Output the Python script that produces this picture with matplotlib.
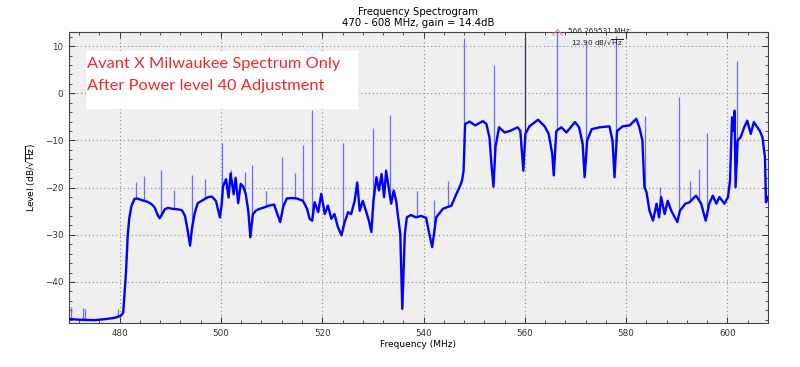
import numpy as np
import matplotlib
matplotlib.use("Agg")
import matplotlib.pyplot as plt
from matplotlib.path import Path
from matplotlib.ticker import AutoMinorLocator

# ---- data ----
trace_freq = [470.0, 470.5, 472.0, 475.0, 477.0, 479.0, 480.2, 480.7, 481.0, 481.25,
              481.6, 481.9, 482.3, 482.9, 483.5, 484.5, 485.5, 486.3, 486.9, 487.5,
              487.9, 488.4, 488.9, 489.5, 490.5, 491.5, 492.3, 492.9, 493.5, 493.9,
              494.3, 494.8, 495.4, 496.5, 497.5, 498.2, 499.0, 499.5, 499.8, 500.1,
              500.4, 501.0, 501.5, 501.9, 502.5, 502.9, 503.4, 503.9, 504.4, 504.9,
              505.4, 505.8, 506.3, 507.0, 507.6, 508.5, 509.5, 510.5, 511.1, 511.7,
              512.3, 513.0, 514.0, 515.0, 516.2, 517.0, 517.5, 518.0, 518.5, 519.2,
              519.8, 520.5, 521.1, 521.8, 522.4, 523.1, 523.8, 524.4, 525.1, 525.7,
              526.4, 526.9, 527.4, 528.0, 528.7, 529.2, 529.7, 530.1, 530.7, 531.2,
              531.7, 532.2, 532.6, 533.2, 533.6, 534.1, 534.6, 534.9, 535.4, 535.8,
              536.3, 536.7, 537.5, 538.5, 539.5, 540.5, 541.0, 541.7, 542.5, 543.8,
              545.5, 546.5, 547.1, 547.6, 547.9, 548.2, 549.1, 550.2, 551.7, 552.4,
              553.0, 553.4, 553.8, 554.2, 554.9, 556.0, 557.0, 558.6, 559.1, 559.5,
              559.7, 560.1, 560.9, 562.6, 563.9, 564.7, 565.4, 565.7, 566.2, 567.2,
              568.2, 569.9, 570.7, 571.4, 571.8, 572.3, 573.2, 574.8, 576.7, 577.3,
              577.7, 578.2, 579.3, 580.7, 582.0, 582.6, 583.2, 583.4, 583.6, 584.0,
              584.6, 585.3, 586.0, 586.5, 586.9, 587.6, 588.2, 588.9, 590.1, 590.6,
              591.7, 592.5, 593.8, 594.8, 595.7, 596.4, 597.1, 597.8, 598.4, 599.4,
              600.1, 600.5, 600.9, 601.2, 601.4, 601.6, 602.0, 602.6, 603.3, 603.9,
              604.6, 605.2, 605.9, 606.4, 606.9, 607.4, 607.6, 608.0]
trace_level = [-47.8, -47.9, -48.0, -48.1, -47.9, -47.6, -47.2, -46.5, -42.0, -38.0,
               -30.0, -26.5, -24.0, -22.4, -22.3, -22.7, -23.0, -23.5, -24.2, -25.8,
               -26.5, -25.6, -24.6, -24.3, -24.5, -24.6, -24.8, -26.0, -29.5, -32.3,
               -28.5, -25.5, -23.3, -22.6, -22.0, -21.9, -22.8, -25.0, -26.3, -24.0,
               -19.8, -18.2, -22.1, -17.0, -21.4, -17.9, -23.3, -19.2, -19.8, -21.4,
               -25.0, -30.5, -25.6, -24.8, -24.5, -24.2, -23.8, -23.6, -25.5, -27.3,
               -24.0, -22.3, -22.2, -22.3, -22.8, -24.5, -26.6, -27.0, -23.1, -25.2,
               -21.3, -25.6, -23.8, -26.6, -25.6, -28.4, -30.1, -27.4, -25.2, -25.6,
               -22.8, -18.9, -24.9, -22.8, -25.2, -27.0, -29.4, -22.8, -17.8, -20.6,
               -17.1, -22.0, -16.4, -20.6, -23.4, -20.6, -22.8, -25.6, -29.8, -45.7,
               -29.8, -26.3, -25.8, -26.3, -26.0, -26.4, -29.1, -32.6, -26.3, -24.5,
               -23.8, -21.3, -19.9, -18.5, -16.4, -6.5, -6.0, -6.8, -5.9, -6.5,
               -9.3, -15.0, -19.8, -11.4, -7.2, -8.3, -8.0, -7.2, -8.0, -13.6,
               -16.4, -8.6, -7.0, -5.6, -7.0, -8.6, -12.8, -17.4, -8.0, -7.2,
               -8.3, -6.1, -7.2, -10.7, -17.8, -10.0, -7.6, -7.2, -7.0, -10.0,
               -17.8, -8.0, -7.0, -6.8, -5.4, -7.2, -10.0, -15.0, -19.9, -20.9,
               -24.9, -27.0, -23.4, -26.3, -22.0, -25.6, -22.8, -24.9, -27.3, -24.9,
               -23.4, -23.1, -21.7, -23.4, -27.0, -23.4, -21.7, -23.4, -22.0, -23.4,
               -22.0, -18.5, -5.1, -8.0, -3.7, -19.9, -10.0, -9.3, -7.2, -5.8,
               -8.6, -6.1, -7.2, -8.0, -9.3, -13.6, -23.1, -22.0]

spike_freq = [470.3, 472.8, 473.2, 479.6, 483.2, 484.9, 488.2, 490.8, 494.3, 496.8,
              500.2, 502.0, 504.7, 506.1, 508.9, 512.1, 514.7, 516.2, 518.0, 524.1,
              530.0, 533.3, 538.7, 542.0, 544.8, 548.0, 554.0, 566.27, 572.0, 578.0,
              583.8, 586.6, 590.4, 592.6, 594.3, 595.9, 601.8]
spike_top = [-45.3, -45.6, -45.8, -45.8, -18.9, -17.6, -16.2, -20.5, -17.3, -18.1,
             -10.6, -16.2, -16.7, -15.3, -20.8, -13.4, -16.9, -10.9, -3.5, -10.6,
             -7.3, -4.7, -20.8, -22.6, -18.6, 11.7, 5.9, 12.9, 11.0, 12.2,
             -4.9, -19.9, -0.8, -18.5, -16.0, -8.5, 6.8]

dark_spike_freq = [560.0]
dark_spike_top = [12.0]

marker_freq = 566.269531
marker_level = 12.90

x_ticks = [480, 500, 520, 540, 560, 580, 600]
y_ticks = [-40, -30, -20, -10, 0, 10]

title_text = "Frequency Spectrogram\n470 - 608 MHz, gain = 14.4dB"
note_lines = ["Avant X Milwaukee Spectrum Only", "After Power level 40 Adjustment"]

# ---- figure ----
fig = plt.figure(figsize=(8.0, 3.67), dpi=100)
ax = fig.add_axes([69 / 800, 1 - 323 / 367, (768 - 69) / 800, (323 - 32) / 367])
ax.set_facecolor("#efefef")

ax.set_xlim(470, 608)
ax.set_ylim(-48.7, 13.0)

# spikes (lighter)
spike_base = np.interp(spike_freq, trace_freq, trace_level)
ax.vlines(spike_freq, spike_base, spike_top, color="#6b6bff", lw=0.9, zorder=2)
dark_base = np.interp(dark_spike_freq, trace_freq, trace_level)
ax.vlines(dark_spike_freq, dark_base, dark_spike_top, color="#33335a", lw=0.9, zorder=2)

# main trace
ax.plot(trace_freq, trace_level, color="#0000ff", lw=1.7, zorder=3)

# marker
chevron = Path([(-1, -0.6), (0, 0.6), (1, -0.6)], [Path.MOVETO, Path.LINETO, Path.LINETO])
ax.plot([marker_freq], [marker_level], marker=chevron, ms=7, mfc="none",
        mec="#ff7a7a", mew=0.9, ls="none", zorder=5, clip_on=False)
ax.annotate(f"{marker_freq:.6f} MHz", (marker_freq, marker_level),
            xytext=(42, 1), textcoords="offset pixels", ha="center", va="center",
            fontsize=5.2, color="#222222", annotation_clip=False)
ax.annotate(f"{marker_level:.2f} dB/" + r"$\sqrt{\mathrm{Hz}}$", (marker_freq, marker_level),
            xytext=(41, -11), textcoords="offset pixels", ha="center", va="center",
            fontsize=5.2, color="#222222", annotation_clip=False)

# axes styling
ax.set_xticks(x_ticks)
ax.set_yticks(y_ticks)
ax.xaxis.set_minor_locator(AutoMinorLocator(5))
ax.yaxis.set_minor_locator(AutoMinorLocator(5))
ax.tick_params(which="both", direction="in", top=True, right=True, labelsize=6.3,
               colors="#333333", pad=4)
ax.tick_params(which="major", length=4, width=0.7)
ax.tick_params(which="minor", length=2, width=0.6)
ax.grid(True, which="major", ls=(0, (1, 2.5)), color="#888888", lw=0.8)
ax.set_axisbelow(True)
for s in ax.spines.values():
    s.set_color("#444444")
    s.set_linewidth(0.8)

ax.set_title(title_text, fontsize=7.3, pad=4, linespacing=1.15)
ax.set_xlabel("Frequency (MHz)", fontsize=6.5, labelpad=2)
ax.set_ylabel(r"Level (dB/$\sqrt{\mathrm{Hz}}$)", fontsize=6.5, labelpad=5)

# white note box with red text
box_x0, box_x1 = 86 / 800, 358 / 800
box_y0, box_y1 = 1 - 109 / 367, 1 - 51 / 367
fig.patches.append(plt.Rectangle((box_x0, box_y0), box_x1 - box_x0, box_y1 - box_y0,
                                 transform=fig.transFigure, facecolor="white",
                                 edgecolor="none", zorder=10))
fig.text(87 / 800, 1 - 64 / 367, note_lines[0], color="#f02828", fontsize=11.8,
         family="Lato", va="center", ha="left", zorder=11)
fig.text(87 / 800, 1 - 86 / 367, note_lines[1], color="#f02828", fontsize=11.8,
         family="Lato", va="center", ha="left", zorder=11)

fig.savefig("out.png", dpi=100)
